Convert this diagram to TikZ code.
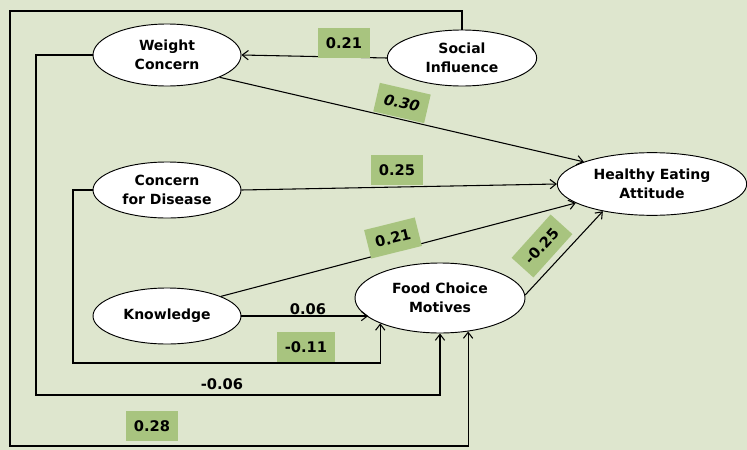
\documentclass[tikz,border=0pt]{standalone}
\usepackage{fontspec}
\setmainfont{DejaVu Sans}
\usetikzlibrary{shapes.geometric,arrows.meta}
\definecolor{bggreen}{HTML}{DEE6CE}
\definecolor{lblgreen}{HTML}{A8C47F}
\tikzset{
  latent/.style={ellipse,draw=black,line width=0.7pt,fill=white,inner sep=0pt,align=center,
    font=\fontsize{10.5}{14.5}\selectfont\bfseries},
  conn/.style={line width=0.8pt,draw=black},
  arr/.style={conn,-{Straight Barb[length=4.5pt,width=7pt]}},
  coef/.style={fill=lblgreen,inner xsep=6pt,minimum height=22pt,font=\fontsize{11}{13}\selectfont\bfseries},
  coefplain/.style={inner sep=1pt,font=\fontsize{11}{13}\selectfont\bfseries}
}
\begin{document}
\begin{tikzpicture}[x=0.75pt,y=-0.75pt]
\fill[bggreen] (0,0) rectangle (747,450);
\useasboundingbox (0,0) rectangle (747,450);
% nodes
\node[latent,minimum width=111pt,minimum height=46.5pt] (wc) at (167,55) {Weight\\Concern};
\node[latent,minimum width=112pt,minimum height=42pt] (si) at (462,58) {Social\\Influence};
\node[latent,minimum width=111pt,minimum height=42pt] (cfd) at (167,190) {Concern\\for Disease};
\node[latent,minimum width=111pt,minimum height=42pt] (kn) at (167,316) {Knowledge};
\node[latent,minimum width=127.5pt,minimum height=52.5pt] (fcm) at (440,298) {Food Choice\\Motives};
\node[latent,minimum width=142pt,minimum height=47pt] (hea) at (652,184) {Healthy Eating\\Attitude};
% corner coordinates
\coordinate (c1) at (10,11);
\coordinate (c2) at (10,446);
\coordinate (c3) at (36,395);
\coordinate (c4) at (73,363);
% connectors
\draw[arr] (si.west) -- (wc.east);
\draw[arr] (wc.-23) -- (hea.162);
\draw[arr] (cfd.east) -- (hea.west);
\draw[arr] (kn.20) -- (hea.194);
\draw[arr] (fcm.2) -- (hea.209);
\draw[arr] (kn.east) -- (kn.east -| fcm.195);
\draw[arr] (cfd.west) -| (c4) -| (fcm.203);
\draw[arr] (wc.west) -| (c3) -| (fcm.south);
\draw[arr] (si.north) |- (c1) -- (c2) -| (fcm.-50);
% coefficients
\node[coef] (l1) at (344,43) {0.21};
\node[coef,rotate=-13] (l2) at (402,103) {\itshape 0.30};
\node[coef] (l3) at (397,170) {0.25};
\node[coef,rotate=14] (l4) at (393,238) {0.21};
\node[coef,rotate=48] (l5) at (542,246) {-0.25};
\node[coefplain] (l6) at (308,309) {0.06};
\node[coef] (l7) at (306,347) {-0.11};
\node[coefplain] (l8) at (222,384) {-0.06};
\node[coef] (l9) at (152,426) {0.28};
\end{tikzpicture}
\end{document}
